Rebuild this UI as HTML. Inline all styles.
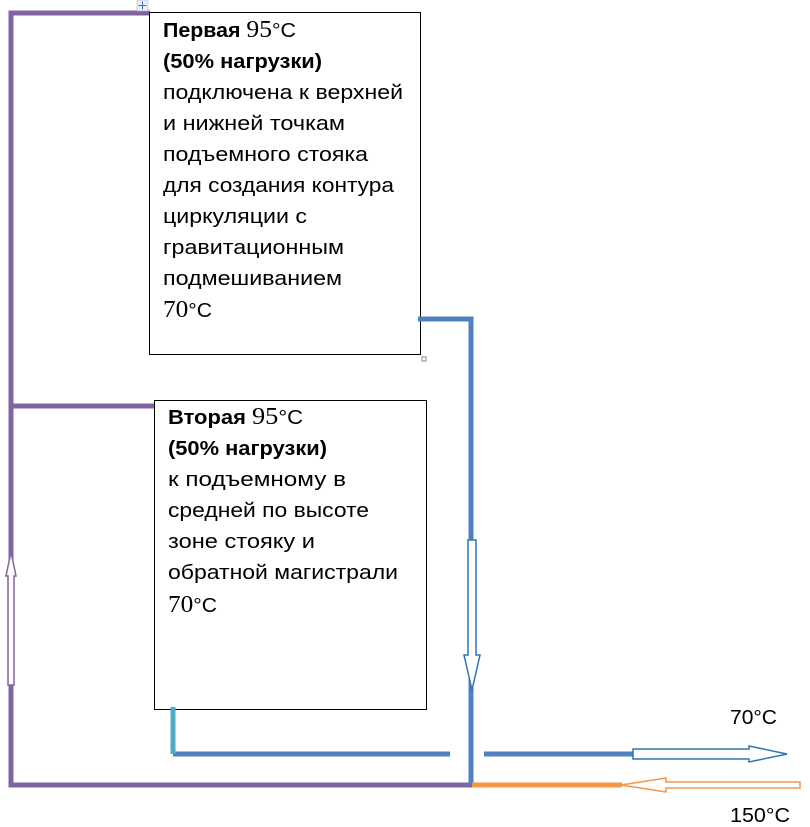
<!DOCTYPE html>
<html><head><meta charset="utf-8">
<style>
html,body{margin:0;padding:0;background:#fff;width:810px;height:827px;overflow:hidden}
svg{display:block}
.t{font-family:"Liberation Sans","DejaVu Sans",sans-serif;font-size:20px;fill:#000}
.b{font-weight:bold}
.s{font-family:"Liberation Serif",serif;font-size:24px}
</style></head><body>
<svg width="810" height="827" viewBox="0 0 810 827" xmlns="http://www.w3.org/2000/svg">
<g stroke="#8064a2" stroke-width="5" fill="none">
<polyline points="150,13 11,13 11,785 472,785"/>
<line x1="11" y1="406" x2="155" y2="406"/>
</g>
<polygon points="8,685 8,576 6,576 11,552 16,576 14,576 14,685" fill="#fff" stroke="#8064a2" stroke-width="1.5"/>
<rect x="149.5" y="12.5" width="271" height="342" fill="#fff" stroke="#000" stroke-width="1"/>
<rect x="154.5" y="400.5" width="272" height="309" fill="#fff" stroke="#000" stroke-width="1"/>
<rect x="422" y="357" width="4" height="4" fill="#fff" stroke="#888" stroke-width="1"/>
<rect x="137" y="0" width="11" height="11" fill="#e8eef8" stroke="#aab" stroke-width="0.5"/>
<path d="M142.5 1.5v8M138.5 5.5h8" stroke="#4a6fb5" stroke-width="1"/>
<g stroke="#4f81bd" stroke-width="5" fill="none">
<polyline points="418,319 471,319 471,785"/>
<polyline points="173,754 450,754"/>
<line x1="484" y1="754" x2="634" y2="754"/>
</g>
<line x1="173" y1="707" x2="173" y2="754" stroke="#4bacc6" stroke-width="5"/>
<polygon points="468,540 476,540 476,655 480,655 472,690 464,655 468,655" fill="#fff" stroke="#2e75b6" stroke-width="1.5"/>
<polygon points="633,749 749,749 749,746 787,754 749,762 749,759 633,759" fill="#fff" stroke="#2e75b6" stroke-width="1.5"/>
<line x1="472" y1="785" x2="622" y2="785" stroke="#f79646" stroke-width="5"/>
<polygon points="621,785 666,778 666,782 800,782 800,788 666,788 666,792" fill="#fff" stroke="#f79646" stroke-width="1.5"/>
<!-- box 1 -->
<text class="t" x="163" y="37" textLength="133" lengthAdjust="spacingAndGlyphs"><tspan class="b">Первая </tspan><tspan class="s">95</tspan>°C</text>
<text class="t b" x="163" y="68" textLength="159" lengthAdjust="spacingAndGlyphs">(50% нагрузки)</text>
<text class="t" x="163" y="99" textLength="240" lengthAdjust="spacingAndGlyphs">подключена к верхней</text>
<text class="t" x="163" y="130" textLength="182" lengthAdjust="spacingAndGlyphs">и нижней  точкам</text>
<text class="t" x="163" y="161" textLength="205" lengthAdjust="spacingAndGlyphs">подъемного стояка</text>
<text class="t" x="163" y="192" textLength="231" lengthAdjust="spacingAndGlyphs">для создания контура</text>
<text class="t" x="163" y="223" textLength="144" lengthAdjust="spacingAndGlyphs">циркуляции с</text>
<text class="t" x="163" y="254" textLength="181" lengthAdjust="spacingAndGlyphs">гравитационным</text>
<text class="t" x="163" y="285" textLength="179" lengthAdjust="spacingAndGlyphs">подмешиванием</text>
<text class="t" x="163" y="317" textLength="49" lengthAdjust="spacingAndGlyphs"><tspan class="s">70</tspan>°C</text>
<!-- box 2 -->
<text class="t" x="168" y="424" textLength="135" lengthAdjust="spacingAndGlyphs"><tspan class="b">Вторая  </tspan><tspan class="s">95</tspan>°C</text>
<text class="t b" x="168" y="455" textLength="159" lengthAdjust="spacingAndGlyphs">(50% нагрузки)</text>
<text class="t" x="168" y="486" textLength="178" lengthAdjust="spacingAndGlyphs">к подъемному   в</text>
<text class="t" x="168" y="517" textLength="201" lengthAdjust="spacingAndGlyphs">средней по высоте</text>
<text class="t" x="168" y="548" textLength="147" lengthAdjust="spacingAndGlyphs">зоне  стояку и</text>
<text class="t" x="168" y="579" textLength="230" lengthAdjust="spacingAndGlyphs">обратной магистрали</text>
<text class="t" x="168" y="612" textLength="49" lengthAdjust="spacingAndGlyphs"><tspan class="s">70</tspan>°C</text>
<text class="t" x="730" y="724" textLength="47" lengthAdjust="spacingAndGlyphs">70°C</text>
<text class="t" x="730" y="822" textLength="60" lengthAdjust="spacingAndGlyphs">150°C</text>
</svg>
</body></html>
